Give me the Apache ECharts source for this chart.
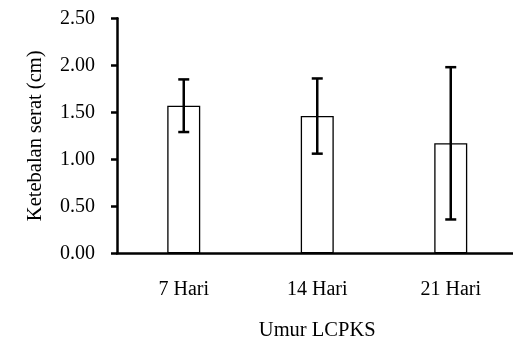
<!DOCTYPE html>
<html>
<head>
<meta charset="utf-8">
<script src="https://cdn.jsdelivr.net/npm/echarts@6/dist/echarts.min.js"></script>
<style>
html,body{margin:0;padding:0;background:#fff;}
#c{width:513px;height:345px;}
</style>
</head>
<body>
<div id="c"></div>
<script>
var categories = ['7 Hari', '14 Hari', '21 Hari'];
var means = [1.57, 1.46, 1.17];
var errors = [0.28, 0.40, 0.81];
var yTicks = [0, 0.5, 1.0, 1.5, 2.0, 2.5];

var chart = echarts.init(document.getElementById('c'), null, {renderer: 'canvas'});
var font = '"Liberation Serif", "Times New Roman", serif';

var errData = categories.map(function (c, i) {
  return [i, means[i] - errors[i], means[i] + errors[i]];
});

chart.setOption({
  animation: false,
  grid: {left: 117, top: 18.3, right: -4.5, bottom: 91.7, containLabel: false, outerBoundsMode: 'none'},
  xAxis: {
    type: 'category',
    data: categories,
    name: 'Umur LCPKS',
    nameLocation: 'middle',
    nameGap: 67,
    nameTextStyle: {fontFamily: font, fontSize: 20.5, color: '#000'},
    axisLine: {lineStyle: {color: '#000', width: 2.5}},
    axisTick: {show: false},
    axisLabel: {fontFamily: font, fontSize: 20, color: '#000', margin: 26}
  },
  yAxis: {
    type: 'value',
    min: 0,
    max: 2.5,
    interval: 0.5,
    name: 'Ketebalan serat (cm)',
    nameLocation: 'middle',
    nameGap: 71,
    nameTextStyle: {fontFamily: font, fontSize: 20.5, color: '#000'},
    axisLine: {show: true, lineStyle: {color: '#000', width: 2.5}},
    axisTick: {show: true, inside: false, length: 6, lineStyle: {color: '#000', width: 2.5}},
    splitLine: {show: false},
    axisLabel: {
      fontFamily: font, fontSize: 20, color: '#000', margin: 22,
      formatter: function (v) { return v.toFixed(2); }
    }
  },
  series: [
    {
      type: 'bar',
      data: means,
      barWidth: 33,
      itemStyle: {color: '#fff', borderColor: '#000', borderWidth: 1.3}
    },
    {
      type: 'custom',
      data: errData,
      z: 10,
      renderItem: function (params, api) {
        var x = api.value(0);
        var lo = api.coord([x, api.value(1)]);
        var hi = api.coord([x, api.value(2)]);
        var hw = 5.5;
        var st = {stroke: '#000', lineWidth: 2.5};
        return {
          type: 'group',
          children: [
            {type: 'line', shape: {x1: hi[0], y1: hi[1], x2: lo[0], y2: lo[1]}, style: st},
            {type: 'line', shape: {x1: hi[0] - hw, y1: hi[1], x2: hi[0] + hw, y2: hi[1]}, style: st},
            {type: 'line', shape: {x1: lo[0] - hw, y1: lo[1], x2: lo[0] + hw, y2: lo[1]}, style: st}
          ]
        };
      }
    }
  ]
});
</script>
</body>
</html>
